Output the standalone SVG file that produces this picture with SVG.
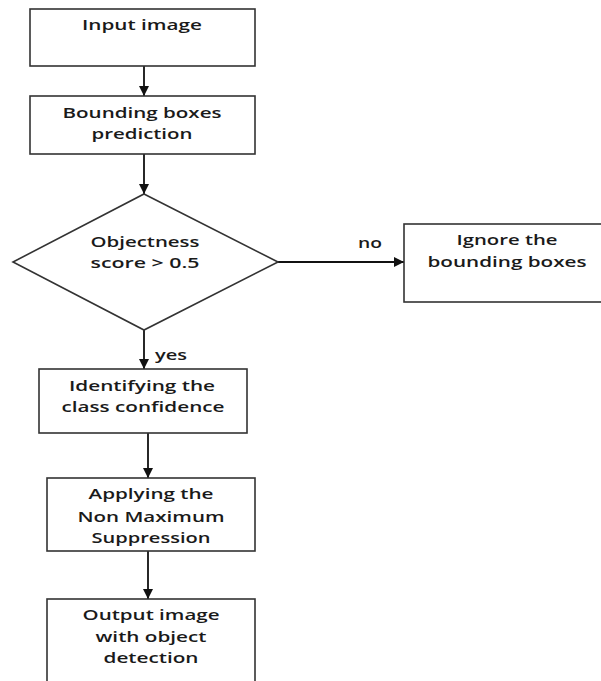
<svg xmlns="http://www.w3.org/2000/svg" width="601" height="681" viewBox="0 0 601 681">
<style>
.box{fill:#fff;stroke:#333;stroke-width:1.6}
.t{font-family:"Open Sans","Liberation Sans",sans-serif;font-size:15px;font-weight:600;fill:#1a1a1a;text-anchor:middle}
.c{stroke:#111;stroke-width:1.8;fill:none}
</style>
<defs>
<marker id="ah" viewBox="0 0 10 10" refX="10" refY="5" markerWidth="10" markerHeight="10" markerUnits="userSpaceOnUse" orient="auto">
<path d="M0,0 L10,5 L0,10 Z" fill="#111"/>
</marker>
</defs>
<rect width="601" height="681" fill="#fff"/>
<g id="connectors">
<line class="c" x1="144" y1="66" x2="144" y2="96" marker-end="url(#ah)"/>
<line class="c" x1="144" y1="154" x2="144" y2="194" marker-end="url(#ah)"/>
<line class="c" x1="278" y1="262" x2="404" y2="262" marker-end="url(#ah)"/>
<line class="c" x1="144" y1="330" x2="144" y2="369" marker-end="url(#ah)"/>
<line class="c" x1="148" y1="433" x2="148" y2="478" marker-end="url(#ah)"/>
<line class="c" x1="148" y1="551" x2="148" y2="599" marker-end="url(#ah)"/>
<text class="t" x="370" y="248" textLength="24" lengthAdjust="spacingAndGlyphs">no</text>
<text class="t" x="171" y="360" textLength="32" lengthAdjust="spacingAndGlyphs">yes</text>
</g>
<g id="input">
<rect class="box" x="30" y="9" width="225" height="57"/>
<text class="t" x="142" y="30" textLength="120" lengthAdjust="spacingAndGlyphs">Input image</text>
</g>
<g id="bbox">
<rect class="box" x="30" y="96" width="225" height="58"/>
<text class="t" x="142" y="118" textLength="159" lengthAdjust="spacingAndGlyphs">Bounding boxes</text>
<text class="t" x="142" y="139" textLength="101" lengthAdjust="spacingAndGlyphs">prediction</text>
</g>
<g id="decision">
<polygon class="box" points="144,194 278,262 144,330 13,262"/>
<text class="t" x="145" y="247" textLength="109" lengthAdjust="spacingAndGlyphs">Objectness</text>
<text class="t" x="145" y="268" textLength="109" lengthAdjust="spacingAndGlyphs">score &gt; 0.5</text>
</g>
<g id="ignore">
<rect class="box" x="404" y="224" width="210" height="78"/>
<text class="t" x="507" y="245" textLength="101" lengthAdjust="spacingAndGlyphs">Ignore the</text>
<text class="t" x="507" y="267" textLength="159" lengthAdjust="spacingAndGlyphs">bounding boxes</text>
</g>
<g id="identify">
<rect class="box" x="39" y="369" width="208" height="64"/>
<text class="t" x="142" y="391" textLength="146" lengthAdjust="spacingAndGlyphs">Identifying the</text>
<text class="t" x="143" y="412" textLength="163" lengthAdjust="spacingAndGlyphs">class confidence</text>
</g>
<g id="nms">
<rect class="box" x="47" y="478" width="208" height="73"/>
<text class="t" x="151" y="499" textLength="125" lengthAdjust="spacingAndGlyphs">Applying the</text>
<text class="t" x="151" y="522" textLength="147" lengthAdjust="spacingAndGlyphs">Non Maximum</text>
<text class="t" x="151" y="543" textLength="119" lengthAdjust="spacingAndGlyphs">Suppression</text>
</g>
<g id="output">
<rect class="box" x="47" y="599" width="208" height="95"/>
<text class="t" x="151" y="620" textLength="137" lengthAdjust="spacingAndGlyphs">Output image</text>
<text class="t" x="151" y="642" textLength="111" lengthAdjust="spacingAndGlyphs">with object</text>
<text class="t" x="151" y="663" textLength="95" lengthAdjust="spacingAndGlyphs">detection</text>
</g>
</svg>
